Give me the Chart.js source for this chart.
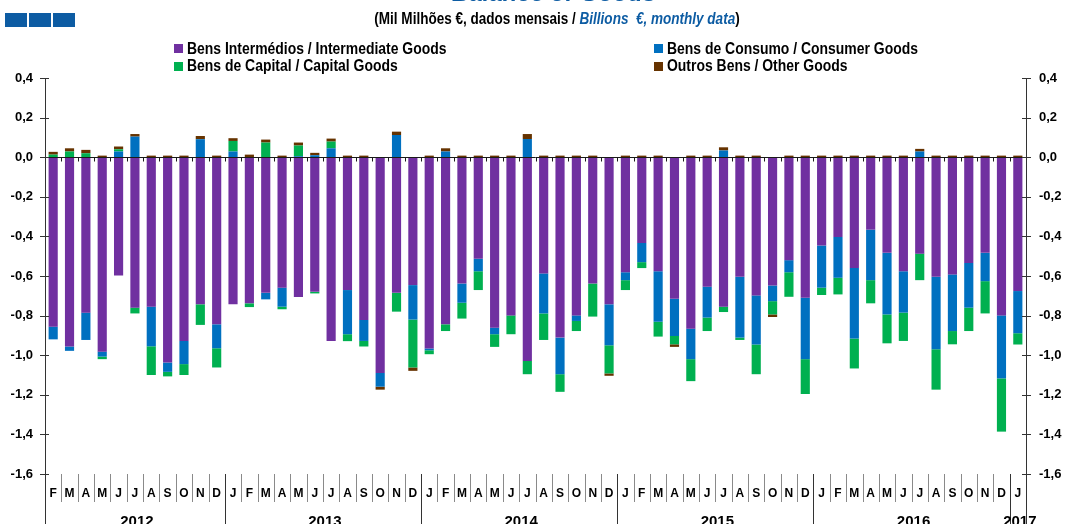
<!DOCTYPE html>
<html><head><meta charset="utf-8">
<script src="https://cdn.jsdelivr.net/npm/chart.js@4.4.1/dist/chart.umd.min.js"></script>
<style>
html,body{margin:0;padding:0;background:#fff;}
#wrap{position:relative;width:1074px;height:524px;overflow:hidden;background:#fff;}
#c{position:absolute;left:0;top:0;}
.sq{position:absolute;top:13px;width:22px;height:14px;background:#0D5CA3;}
.nar{position:absolute;white-space:nowrap;font-weight:bold;color:#000;line-height:1;}
.lg{font-size:17px;}
.lsq{position:absolute;width:9px;height:9px;}
#title{position:absolute;left:54px;width:1000px;top:-19px;text-align:center;font:italic bold 24px 'Liberation Sans',Arial,sans-serif;color:#0D5CA3;line-height:1;white-space:nowrap;}
#sub{left:57px;width:1000px;top:10px;text-align:center;font-size:16.5px;}
#sub i{color:#0D5CA3;font-weight:bold;}
</style></head><body>
<div id="wrap">
  <canvas id="c" width="1074" height="524"></canvas>
  <div class="sq" style="left:5px"></div>
  <div class="sq" style="left:29px"></div>
  <div class="sq" style="left:53px"></div>
  <div id="title">Balance of Goods</div>
  <div id="sub" class="nar">(Mil Milhões €, dados mensais / <i>Billions&nbsp; €, monthly data</i>)</div>
  <div class="lsq" style="left:174px;top:44px;background:#7030A0"></div>
  <div class="nar lg" style="left:187px;top:39.6px">Bens Intermédios / Intermediate Goods</div>
  <div class="lsq" style="left:174px;top:62px;background:#00B050"></div>
  <div class="nar lg" style="left:187px;top:56.6px">Bens de Capital / Capital Goods</div>
  <div class="lsq" style="left:654px;top:44px;background:#0070C0"></div>
  <div class="nar lg" style="left:667px;top:39.6px">Bens de Consumo / Consumer Goods</div>
  <div class="lsq" style="left:654px;top:62px;background:#663300"></div>
  <div class="nar lg" style="left:667px;top:56.6px">Outros Bens / Other Goods</div>
</div>
<script>
// ---- data (billions €, monthly) ----
const monthLabels = [
  'F','M','A','M','J','J','A','S','O','N','D',
  'J','F','M','A','M','J','J','A','S','O','N','D',
  'J','F','M','A','M','J','J','A','S','O','N','D',
  'J','F','M','A','M','J','J','A','S','O','N','D',
  'J','F','M','A','M','J','J','A','S','O','N','D',
  'J'
];
const yearLabels = ['2012','2013','2014','2015','2016','2017'];
const monthsPerYear = [11,12,12,12,12,1];

const intermediateGoods = [
  -0.856,-0.956,-0.785,-0.982,-0.597,-0.760,-0.755,-1.037,-0.928,-0.743,-0.844,
  -0.743,-0.738,-0.685,-0.659,-0.706,-0.680,-0.928,-0.671,-0.822,-1.090,-0.685,-0.646,
  -0.966,-0.844,-0.638,-0.513,-0.861,-0.799,-1.029,-0.587,-0.911,-0.799,-0.638,-0.743,
  -0.581,-0.433,-0.576,-0.715,-0.866,-0.654,-0.755,-0.604,-0.698,-0.648,-0.520,-0.710,
  -0.446,-0.403,-0.559,-0.366,-0.483,-0.576,-0.487,-0.604,-0.592,-0.534,-0.483,-0.799,
  -0.676
];
const consumerGoods = [
  -0.064,-0.022,-0.138,-0.025, 0.029, 0.104,-0.200,-0.047,-0.117, 0.091,-0.121,
   0.029, 0.000,-0.033,-0.096, 0.005, 0.010, 0.045,-0.223,-0.106,-0.069, 0.112,-0.174,
  -0.009, 0.029,-0.097,-0.063,-0.033, 0.000, 0.092,-0.202,-0.185,-0.028, 0.000,-0.207,
  -0.040,-0.097,-0.255,-0.188,-0.154,-0.156, 0.034,-0.307,-0.248,-0.079,-0.061,-0.310,
  -0.213,-0.206,-0.357,-0.255,-0.311,-0.209, 0.029,-0.366,-0.286,-0.226,-0.143,-0.318,
  -0.213
];
const capitalGoods = [
   0.013, 0.029, 0.020,-0.013, 0.011,-0.029,-0.145,-0.023,-0.055,-0.104,-0.097,
   0.053,-0.019, 0.074,-0.013, 0.054,-0.008, 0.034,-0.035,-0.028, 0.000,-0.095,-0.242,
  -0.020,-0.034,-0.080,-0.095,-0.064,-0.095,-0.067,-0.134,-0.089,-0.051,-0.167,-0.142,
  -0.050,-0.030,-0.075,-0.042,-0.111,-0.068,-0.027,-0.012,-0.150,-0.067,-0.124,-0.176,
  -0.037,-0.084,-0.151,-0.117,-0.146,-0.143,-0.134,-0.204,-0.067,-0.118,-0.163,-0.269,
  -0.057
];
const otherGoods = [
   0.014, 0.016, 0.017, 0.008, 0.014, 0.013, 0.008, 0.008, 0.008, 0.016, 0.008,
   0.014, 0.013, 0.015, 0.008, 0.015, 0.012, 0.015, 0.008, 0.008,-0.015, 0.017,-0.017,
   0.008, 0.016, 0.008, 0.008, 0.008, 0.008, 0.025, 0.008, 0.008, 0.008, 0.008,-0.012,
   0.008, 0.008, 0.008,-0.013, 0.008, 0.008, 0.016, 0.008, 0.008,-0.013, 0.008, 0.008,
   0.008, 0.008, 0.008, 0.008, 0.008, 0.008, 0.013, 0.008, 0.008, 0.008, 0.008, 0.008,
   0.008
];
const seriesNames = [
  'Bens Intermédios / Intermediate Goods',
  'Bens de Consumo / Consumer Goods',
  'Bens de Capital / Capital Goods',
  'Outros Bens / Other Goods'
];
const seriesColors = ['#7030A0','#0070C0','#00B050','#663300'];

// ---- narrow font handling ----
(function(){
  const m = document.createElement('canvas').getContext('2d');
  m.font = "bold 17px 'Liberation Sans Narrow', monospace";
  const w1 = m.measureText('Bens Intermédios Goods').width;
  m.font = "bold 17px monospace";
  const w2 = m.measureText('Bens Intermédios Goods').width;
  const has = Math.abs(w1 - w2) > 1;
  document.querySelectorAll('.nar').forEach(el => {
    if (has) {
      el.style.fontFamily = "'Liberation Sans Narrow', 'Arial Narrow', sans-serif";
    } else {
      el.style.fontFamily = "'Liberation Sans', Arial, sans-serif";
      el.style.transform = 'scaleX(0.82)';
      el.style.transformOrigin = el.id === 'sub' ? '50% 50%' : '0 50%';
    }
  });
})();

const FONT = "'Liberation Sans', Arial, sans-serif";
const fmt = v => (Math.round(v * 10) / 10).toFixed(1).replace('.', ',');

const decor = {
  id: 'decor',
  afterDatasetsDraw(chart) {
    const {ctx, chartArea: a, scales: {x, y}} = chart;
    const y0 = Math.round(y.getPixelForValue(0)) + 0.5;
    ctx.save();
    ctx.strokeStyle = '#1a1a1a';
    ctx.lineWidth = 1;
    ctx.beginPath();
    ctx.moveTo(a.left, y0); ctx.lineTo(a.right, y0);
    for (let i = 1; i < monthLabels.length; i++) {
      const bx = Math.round((x.getPixelForValue(i - 1) + x.getPixelForValue(i)) / 2) + 0.5;
      ctx.moveTo(bx, y0); ctx.lineTo(bx, y0 + 4);
    }
    ctx.stroke();
    ctx.restore();
  },
  afterDraw(chart) {
    const {ctx, chartArea: a, scales: {x, y}} = chart;
    const H = chart.height;
    ctx.save();
    ctx.lineWidth = 1;
    ctx.strokeStyle = '#333';
    ctx.beginPath();
    for (let v = -1.6; v <= 0.401; v += 0.2) {
      const py = Math.round(y.getPixelForValue(v)) + 0.5;
      ctx.moveTo(a.left - 5, py); ctx.lineTo(a.left + 4, py);
      ctx.moveTo(a.right - 4, py); ctx.lineTo(a.right + 5, py);
    }
    ctx.stroke();
    ctx.beginPath();
    const lx = Math.round(a.left) + 0.5, rx = Math.round(a.right) + 0.5;
    ctx.moveTo(lx, a.bottom); ctx.lineTo(lx, H);
    ctx.moveTo(rx, a.bottom); ctx.lineTo(rx, H);
    ctx.stroke();
    const boundary = i => (x.getPixelForValue(i - 1) + x.getPixelForValue(i)) / 2;
    const yearStartIdx = [];
    let acc = 0;
    monthsPerYear.forEach(n => { yearStartIdx.push(acc); acc += n; });
    ctx.strokeStyle = '#8a8a8a';
    ctx.beginPath();
    for (let i = 1; i < monthLabels.length; i++) {
      if (yearStartIdx.includes(i)) continue;
      const bx = Math.round(boundary(i)) + 0.5;
      ctx.moveTo(bx, a.bottom); ctx.lineTo(bx, a.bottom + 28);
    }
    ctx.stroke();
    ctx.strokeStyle = '#333';
    ctx.beginPath();
    yearStartIdx.forEach(i => {
      if (i === 0) return;
      const bx = Math.round(boundary(i)) + 0.5;
      ctx.moveTo(bx, a.bottom); ctx.lineTo(bx, H);
    });
    ctx.stroke();
    ctx.fillStyle = '#000';
    ctx.font = 'bold 15px ' + FONT;
    ctx.textAlign = 'center';
    ctx.textBaseline = 'alphabetic';
    yearLabels.forEach((lab, k) => {
      const s = yearStartIdx[k], e = s + monthsPerYear[k] - 1;
      const cx = (x.getPixelForValue(s) + x.getPixelForValue(e)) / 2;
      ctx.fillText(lab, cx + 2, a.bottom + 52);
    });
    ctx.restore();
  }
};

const datasets = [intermediateGoods, consumerGoods, capitalGoods, otherGoods].map((d, i) => ({
  label: seriesNames[i],
  data: d,
  backgroundColor: seriesColors[i],
  borderWidth: 0,
  barPercentage: 0.56,
  categoryPercentage: 1.0
}));

new Chart(document.getElementById('c'), {
  type: 'bar',
  data: { labels: monthLabels, datasets },
  options: {
    responsive: false,
    animation: false,
    devicePixelRatio: 1,
    layout: { padding: { top: 78, left: 0, right: 0, bottom: 0 } },
    plugins: { legend: { display: false }, tooltip: { enabled: false }, title: { display: false } },
    scales: {
      x: {
        stacked: true,
        offset: true,
        grid: { display: false, drawTicks: false },
        border: { display: false },
        ticks: {
          autoSkip: false, maxRotation: 0, minRotation: 0,
          padding: 12,
          color: '#000',
          font: { family: FONT, size: 12, weight: 'bold' }
        },
        afterFit(s) { s.height = 50; }
      },
      y: {
        stacked: true,
        position: 'left',
        min: -1.6, max: 0.4,
        grid: { display: false, drawTicks: false },
        border: { display: true, color: '#333', width: 1 },
        ticks: {
          stepSize: 0.2, padding: 12, color: '#000',
          font: { family: FONT, size: 13, weight: 'bold' },
          callback: v => fmt(v)
        },
        afterFit(s) { s.width = 45; }
      },
      y2: {
        position: 'right',
        min: -1.6, max: 0.4,
        grid: { display: false, drawTicks: false },
        border: { display: true, color: '#333', width: 1 },
        ticks: {
          stepSize: 0.2, padding: 13, color: '#000',
          font: { family: FONT, size: 13, weight: 'bold' },
          callback: v => fmt(v)
        },
        afterFit(s) { s.width = 48; }
      }
    }
  },
  plugins: [decor]
});
</script>
</body></html>
